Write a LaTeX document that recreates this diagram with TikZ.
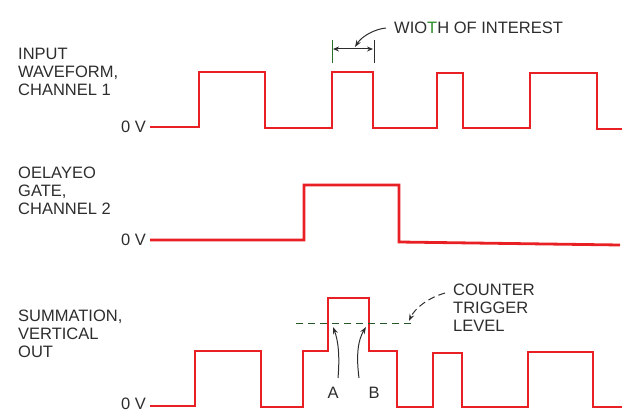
\documentclass[tikz,border=0pt]{standalone}
\usepackage{fontspec}
\setmainfont{Liberation Sans}
\usetikzlibrary{arrows.meta}
\definecolor{wave}{RGB}{232,32,36}
\definecolor{ink}{RGB}{45,45,45}
\definecolor{tgreen}{RGB}{40,140,40}
\newcommand{\lblfont}{\fontsize{16.5}{18}\selectfont}
\tikzset{
  wavefm/.style={draw=wave,line width=2.8pt,line join=miter},
  lbl/.style={text=ink,font=\lblfont,inner sep=0pt,align=left,anchor=north west},
  zv/.style={text=ink,font=\lblfont,inner sep=0pt,anchor=east},
  lead/.style={draw=ink,line width=1pt,-{Stealth[length=7pt,width=5pt]}},
  tick/.style={draw=ink,line width=1pt},
  trig/.style={draw=ink!80!green,line width=1pt,dash pattern=on 7pt off 5pt}
}
\begin{document}
\begin{tikzpicture}[x=1pt,y=-1pt]
\useasboundingbox (0,0) rectangle (634,414);
% labels
\node[lbl] (l1) at (18,48) {INPUT\\WAVEFORM,\\CHANNEL 1};
\node[lbl] (l2) at (18,167) {OELAYEO\\GATE,\\CHANNEL 2};
\node[lbl] (l3) at (18,310) {SUMMATION,\\VERTICAL\\OUT};
\node[zv] (z1) at (146,127) {0 V};
\node[zv] (z2) at (146,240) {0 V};
\node[zv] (z3) at (146,404) {0 V};
% channel 1
\draw[wavefm] (150,127) -- (199,127) -- (199,72) -- (265,72) -- (265,128) -- (332,128) -- (332,72) -- (373,72) -- (373,128) -- (437,128) -- (437,73) -- (463,73) -- (463,128) -- (530,128) -- (530,73) -- (597,73) -- (597,129) -- (622,129);
% channel 2
\draw[wavefm] (150,240) -- (304,240) -- (304,185) -- (399,185) -- (399,242) -- (620,245);
% summation
\draw[wavefm] (150,406) -- (195,406) -- (195,351) -- (261,351) -- (261,407) -- (303,407) -- (303,351) -- (328,351) -- (328,298) -- (369,298) -- (369,351) -- (397,351) -- (397,407) -- (433,407) -- (433,353) -- (462,353) -- (462,407) -- (528,407) -- (528,352) -- (593,352) -- (593,407) -- (622,407);
% width of interest
\node[text=ink,font=\lblfont,inner sep=0pt,anchor=west] (woi) at (394,28) {WIO\textcolor{tgreen}{T}H OF INTEREST};
\coordinate (tl1) at (332,40); \coordinate (tl2) at (332,63);
\coordinate (tr1) at (374,40); \coordinate (tr2) at (374,63);
\draw[tick,draw=tgreen!70!ink] (tl1) -- (tl2);
\draw[tick] (tr1) -- (tr2);
\draw[draw=ink,line width=1pt,{Stealth[length=6pt,width=5pt]}-{Stealth[length=6pt,width=5pt]}] (333,49) -- (373,49);
\coordinate (wtip) at (355,47);
\draw[lead] (woi.west) ++(-8,0) .. controls (375,29) and (362,36) .. (wtip);
% counter trigger level
\node[lbl,anchor=west] (ctl) at (453,308) {COUNTER\\TRIGGER\\LEVEL};
\coordinate (d1) at (296,323); \coordinate (d2) at (412,323);
\draw[trig] (d1) -- (d2);
\coordinate (ctip) at (409,321);
\draw[lead,dash pattern=on 7pt off 4pt] (445,293) .. controls (428,298) and (415,308) .. (ctip);
% A and B
\node[text=ink,font=\lblfont,inner sep=0pt] (A) at (333,393) {A};
\node[text=ink,font=\lblfont,inner sep=0pt] (B) at (374,393) {B};
\coordinate (ta) at (333,327); \coordinate (tb) at (366,327);
\draw[lead] (338,378) .. controls (340,355) and (338,340) .. (ta);
\draw[lead] (359,378) .. controls (356,355) and (358,340) .. (tb);
\end{tikzpicture}
\end{document}
